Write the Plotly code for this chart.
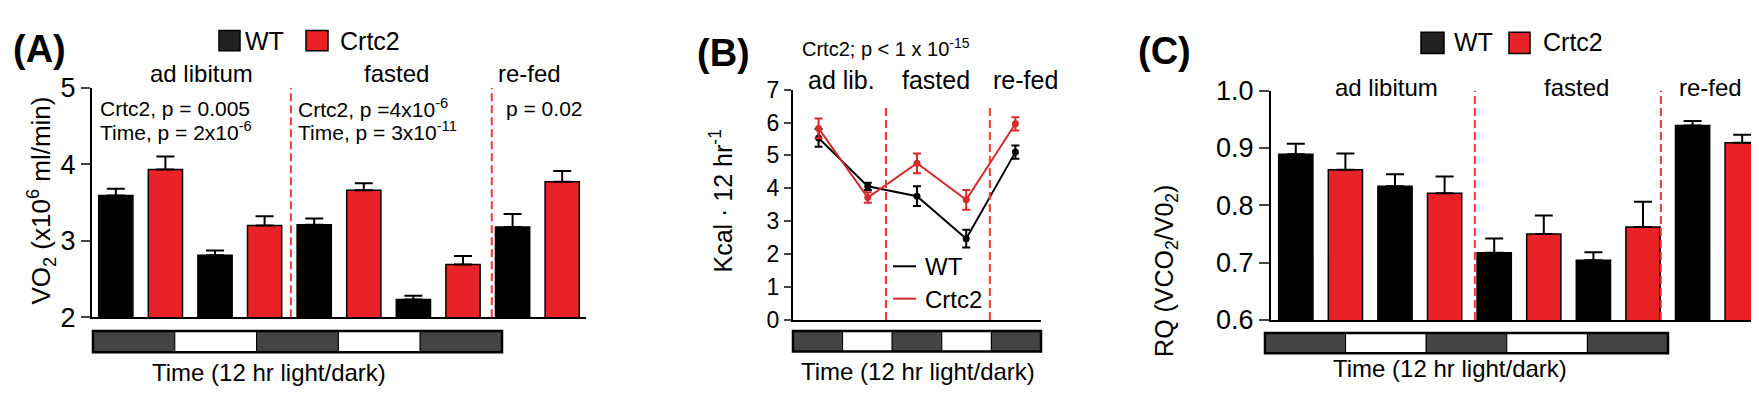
import plotly.graph_objects as go

W, H = 1759, 400

# ---------------- data ----------------
periods = ["ad lib dark", "ad lib light", "fasted dark", "fasted light", "re-fed dark"]
phases = ["dark", "light", "dark", "light", "dark"]

# Panel A: VO2 (x10^6 ml/min)
wt_vo2 = [3.59, 2.81, 3.21, 2.23, 3.18]
wt_vo2_err = [0.09, 0.06, 0.08, 0.05, 0.17]
crtc2_vo2 = [3.93, 3.20, 3.66, 2.69, 3.77]
crtc2_vo2_err = [0.17, 0.12, 0.09, 0.11, 0.14]

# Panel B: Kcal per 12 hr
wt_kcal = [5.53, 4.06, 3.76, 2.47, 5.10]
wt_kcal_err = [0.27, 0.11, 0.30, 0.27, 0.20]
crtc2_kcal = [5.82, 3.72, 4.76, 3.65, 5.96]
crtc2_kcal_err = [0.30, 0.16, 0.30, 0.30, 0.20]

# Panel C: RQ
wt_rq = [0.889, 0.833, 0.717, 0.704, 0.939]
wt_rq_err = [0.018, 0.021, 0.025, 0.014, 0.008]
crtc2_rq = [0.862, 0.821, 0.750, 0.762, 0.909]
crtc2_rq_err = [0.028, 0.029, 0.032, 0.044, 0.014]

# ---------------- styles ----------------
RED = "#e82227"
LRED = "#d42a2c"
DASHRED = "#ec3a35"
DARK = "#444444"
FONT = "Liberation Sans, Arial, Helvetica, sans-serif"


def pxx(x):
    return x / W


def pyy(y):
    return 1 - y / H


wt_x = [2 * i for i in range(len(periods))]
cr_x = [2 * i + 1 for i in range(len(periods))]
tp = list(range(len(periods)))

fig = go.Figure()

bar_line = dict(color="black", width=1.5)


def add_bars(wt, wte, cr, cre, xa, ya):
    fig.add_trace(go.Bar(x=wt_x, y=wt, width=0.69, marker=dict(color="black", line=bar_line),
                         error_y=dict(type="data", array=wte, arrayminus=[0] * len(wte), symmetric=False,
                                      color="black", thickness=2, width=9),
                         xaxis=xa, yaxis=ya, showlegend=False, name="WT"))
    fig.add_trace(go.Bar(x=cr_x, y=cr, width=0.69, marker=dict(color=RED, line=bar_line),
                         error_y=dict(type="data", array=cre, arrayminus=[0] * len(cre), symmetric=False,
                                      color="black", thickness=2, width=9),
                         xaxis=xa, yaxis=ya, showlegend=False, name="Crtc2"))


add_bars(wt_vo2, wt_vo2_err, crtc2_vo2, crtc2_vo2_err, "x", "y")
add_bars(wt_rq, wt_rq_err, crtc2_rq, crtc2_rq_err, "x3", "y3")

fig.add_trace(go.Scatter(x=tp, y=wt_kcal, mode="lines+markers",
                         line=dict(color="black", width=2), marker=dict(color="black", size=7),
                         error_y=dict(type="data", array=wt_kcal_err, color="black", thickness=2, width=4),
                         xaxis="x2", yaxis="y2", showlegend=False, name="WT"))
fig.add_trace(go.Scatter(x=tp, y=crtc2_kcal, mode="lines+markers",
                         line=dict(color=LRED, width=2), marker=dict(color=LRED, size=7),
                         error_y=dict(type="data", array=crtc2_kcal_err, color=LRED, thickness=2, width=4),
                         xaxis="x2", yaxis="y2", showlegend=False, name="Crtc2"))

axis_common = dict(showline=True, linecolor="black", linewidth=2, showgrid=False, zeroline=False)
xcommon = dict(axis_common, showticklabels=False, ticks="", fixedrange=True)

layout = dict(
    width=W, height=H, margin=dict(l=0, r=0, t=0, b=0),
    paper_bgcolor="white", plot_bgcolor="white",
    font=dict(family=FONT, color="black", size=20),
    barmode="overlay",
    xaxis=dict(xcommon, domain=[pxx(84), pxx(578)], range=[-0.48, 9.48], anchor="y"),
    yaxis=dict(axis_common, domain=[pyy(318), pyy(70)], range=[2, 5], tickvals=[2, 3, 4, 5],
               ticks="outside", ticklen=9, tickwidth=2,
               tickfont=dict(size=27, family=FONT, color="black"), anchor="x"),
    xaxis2=dict(xcommon, domain=[pxx(785), pxx(1033)], range=[-0.52, 4.52], anchor="y2"),
    yaxis2=dict(axis_common, domain=[pyy(321), pyy(72)], range=[0, 7], tickvals=list(range(8)),
                ticks="outside", ticklen=7, tickwidth=2,
                tickfont=dict(size=23, family=FONT, color="black"), anchor="x2"),
    xaxis3=dict(xcommon, domain=[pxx(1263), 1.0], range=[-0.5, 9.5], anchor="y3"),
    yaxis3=dict(axis_common, domain=[pyy(321), pyy(73)], range=[0.6, 1.0],
                tickvals=[0.6, 0.7, 0.8, 0.9, 1.0], tickformat=".1f",
                ticks="outside", ticklen=10, tickwidth=2,
                tickfont=dict(size=27, family=FONT, color="black"), anchor="x3"),
)
fig.update_layout(**layout)

shapes = []
# dashed separators (in data coordinates)
for xv in [3.53, 7.58]:
    shapes.append(dict(type="line", xref="x", yref="y", x0=xv, x1=xv, y0=2, y1=5,
                       line=dict(color=DASHRED, width=2, dash="8px,4px")))
for xv in [1.37, 3.48]:
    shapes.append(dict(type="line", xref="x2", yref="y2", x0=xv, x1=xv, y0=0, y1=6.5,
                       line=dict(color=DASHRED, width=2, dash="8px,4px")))
for xv in [3.61, 7.36]:
    shapes.append(dict(type="line", xref="x3", yref="y3", x0=xv, x1=xv, y0=0.6, y1=1.0,
                       line=dict(color=DASHRED, width=2, dash="8px,4px")))


# light/dark bars
def light_dark(x0, x1, y0, y1):
    n = len(phases)
    step = (x1 - x0) / n
    for i, ph in enumerate(phases):
        shapes.append(dict(type="rect", xref="paper", yref="paper",
                           x0=pxx(x0 + i * step), x1=pxx(x0 + (i + 1) * step),
                           y0=pyy(y1), y1=pyy(y0),
                           fillcolor=DARK if ph == "dark" else "white",
                           line=dict(color="black", width=1)))
    shapes.append(dict(type="rect", xref="paper", yref="paper", x0=pxx(x0), x1=pxx(x1),
                       y0=pyy(y1), y1=pyy(y0), line=dict(color="black", width=2.5)))


light_dark(85, 494, 333, 356)
light_dark(785, 1033, 333, 355)
light_dark(1257, 1660, 335, 357)


# legend squares
def sq(x0, x1, y0, y1, color):
    shapes.append(dict(type="rect", xref="paper", yref="paper", x0=pxx(x0), x1=pxx(x1),
                       y0=pyy(y1), y1=pyy(y0), fillcolor=color, line=dict(color="black", width=1.5)))


sq(211, 232, 8, 30, "#222222")
sq(298, 320, 8, 30, RED)
sq(1413, 1436, 10, 33, "#222222")
sq(1501, 1522, 10, 33, RED)

# B legend lines
shapes.append(dict(type="line", xref="paper", yref="paper", x0=pxx(885), x1=pxx(908),
                   y0=pyy(263), y1=pyy(263), line=dict(color="black", width=2)))
shapes.append(dict(type="line", xref="paper", yref="paper", x0=pxx(885), x1=pxx(908),
                   y0=pyy(298), y1=pyy(298), line=dict(color=LRED, width=2)))

fig.update_layout(shapes=shapes)

ann = []


def txt(text, x, y, size, anchor="center", bold=False, angle=0):
    if bold:
        text = "<b>" + text + "</b>"
    ann.append(dict(text=text, x=pxx(x), y=pyy(y), xref="paper", yref="paper",
                    xanchor=anchor, yanchor="middle", showarrow=False, textangle=angle,
                    font=dict(size=size, family=FONT, color="black")))


# Panel A
txt("(A)", 3, 28, 38, "left", bold=True)
txt("WT", 235, 19, 25, "left")
txt("Crtc2", 330, 19, 25, "left")
txt("ad libitum", 193, 55, 24)
txt("fasted", 388, 55, 24)
txt("re-fed", 521, 55, 24)
txt("Crtc2, p = 0.005", 90, 92, 21, "left")
txt("Time, p = 2x10<sup>-6</sup>", 90, 117, 21, "left")
txt("Crtc2, p =4x10<sup>-6</sup>", 288, 92, 21, "left")
txt("Time, p = 3x10<sup>-11</sup>", 288, 117, 21, "left")
txt("p = 0.02", 496, 92, 21, "left")
txt("VO<sub>2</sub> (x10<sup>6</sup> ml/min)", 33, 192, 26, angle=-90)
txt("Time (12 hr light/dark)", 261, 378, 24)

# Panel B
txt("(B)", 687, 32, 38, "left", bold=True)
txt("Crtc2; p &lt; 1 x 10<sup>-15</sup>", 878, 26, 20)
txt("ad lib.", 833, 62, 25)
txt("fasted", 928, 62, 25)
txt("re-fed", 1018, 62, 25)
txt("Kcal · 12 hr<sup>-1</sup>", 713, 193, 25, angle=-90)
txt("WT", 915, 263, 24, "left")
txt("Crtc2", 915, 299, 24, "left")
txt("Time (12 hr light/dark)", 910, 377, 24)

# Panel C
txt("(C)", 1128, 30, 38, "left", bold=True)
txt("WT", 1444, 21, 25, "left")
txt("Crtc2", 1533, 21, 25, "left")
txt("ad libitum", 1378, 70, 24)
txt("fasted", 1568, 70, 24)
txt("re-fed", 1702, 70, 24)
txt("RQ (VCO<sub>2</sub>/V0<sub>2</sub>)", 1158, 268, 25, angle=-90)
txt("Time (12 hr light/dark)", 1442, 374, 24)

fig.update_layout(annotations=ann)

fig.write_html("out.html")
